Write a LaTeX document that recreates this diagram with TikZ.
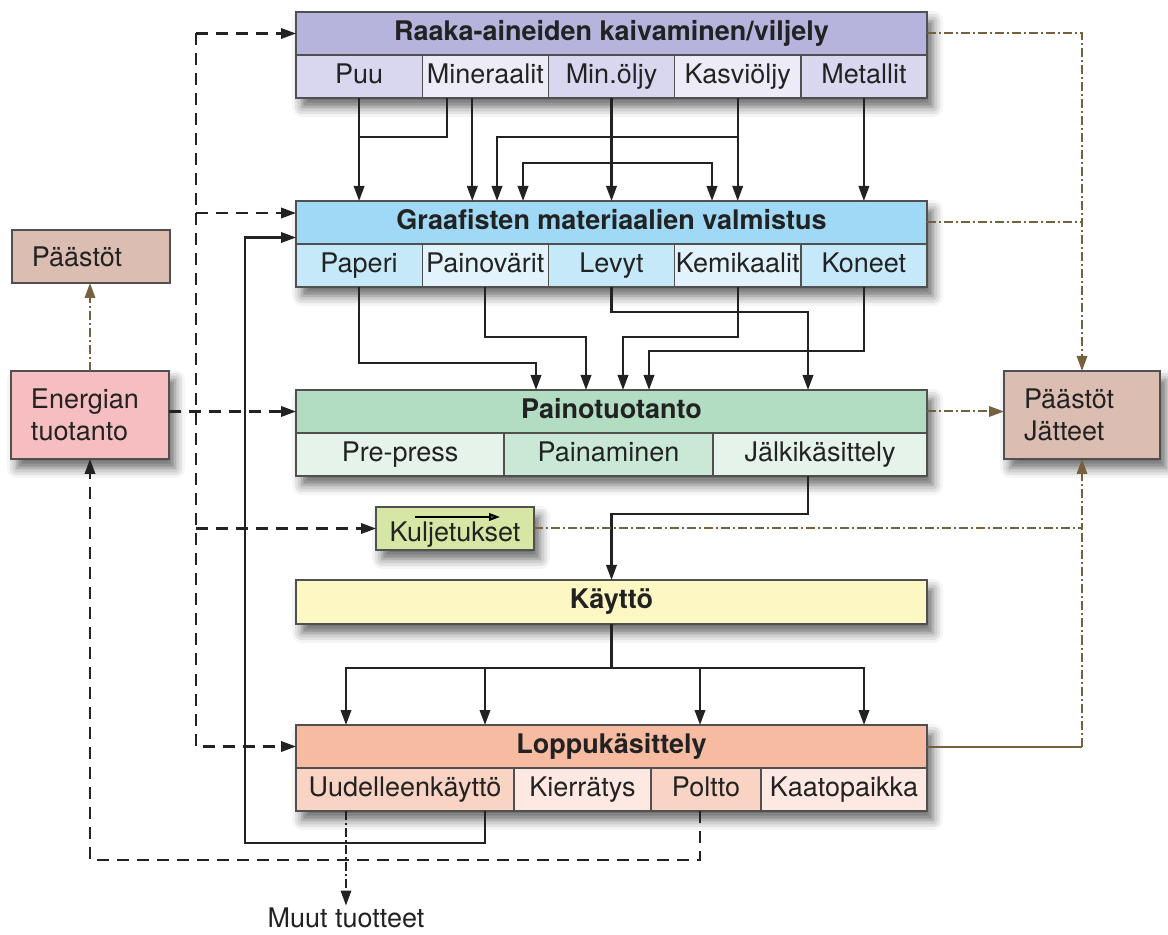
\documentclass[tikz,border=0pt]{standalone}
\usepackage{fontspec}
\setmainfont{TeX Gyre Heros}
\usetikzlibrary{positioning,arrows.meta,shadows.blur}

\definecolor{edge}{HTML}{505050}
\definecolor{ink}{HTML}{222222}
\definecolor{brn}{HTML}{76613F}
\definecolor{rawhd}{HTML}{B6B3DD}
\definecolor{rawdk}{HTML}{D9D7EF}
\definecolor{rawlt}{HTML}{ECEBF7}
\definecolor{grahd}{HTML}{9FD9F6}
\definecolor{gradk}{HTML}{C6E9FA}
\definecolor{gralt}{HTML}{E2F3FC}
\definecolor{pnohd}{HTML}{B2DDC3}
\definecolor{pnodk}{HTML}{CAE8D6}
\definecolor{pnolt}{HTML}{E5F3EA}
\definecolor{kulfill}{HTML}{D6E7A5}
\definecolor{kayfill}{HTML}{FCF7C3}
\definecolor{lophd}{HTML}{F7BBA2}
\definecolor{lopdk}{HTML}{F9D3C3}
\definecolor{loplt}{HTML}{FDE9E1}
\definecolor{emisfill}{HTML}{DCBDB2}
\definecolor{enefill}{HTML}{F6BEC1}

\pgfdeclarelayer{bg}
\pgfsetlayers{bg,main}

\begin{document}
\begin{tikzpicture}[
    x=0.5pt, y=-0.5pt, % one unit = one pixel of the layout, y going down
    font=\fontsize{13.5}{16}\selectfont,
    hdr/.style={draw=edge, line width=0.7pt, text=ink, font=\fontsize{13.5}{16}\selectfont\bfseries, minimum width=315.5pt, minimum height=21.5pt, text height=9.8pt, text depth=2.9pt, inner sep=0pt, outer sep=0pt, anchor=north west},
    cell/.style={draw=edge, line width=0.7pt, text=ink, minimum height=21.5pt, text height=9.8pt, text depth=2.9pt, inner sep=0pt, outer sep=0pt},
    sidebox/.style={draw=edge, line width=0.7pt, text=ink, align=left, text width=59pt, inner xsep=10pt, inner ysep=0pt, outer sep=0pt, anchor=north west},
    arr/.style={draw=ink, line width=1.15pt, -{Triangle[length=7.5pt,width=5.2pt]}},
    solidline/.style={draw=ink, line width=1.15pt},
    dsh/.style={draw=ink, line width=1.15pt, dash pattern=on 6pt off 4pt},
    dsharr/.style={dsh, -{Triangle[length=7.5pt,width=5.2pt]}},
    emis/.style={draw=brn, line width=1pt, dash pattern=on 4.5pt off 1.5pt on 1pt off 1.5pt},
    emisarr/.style={emis, -{Triangle[length=7.5pt,width=5.2pt]}},
    shadowbox/.style={fill=white, blur shadow={shadow xshift=3pt, shadow yshift=-4.5pt, shadow blur radius=5pt, shadow opacity=60}}
  ]
  \useasboundingbox (0,0) rectangle (1168,935);

  % Nodes
  \node[hdr, fill=rawhd] (raw) at (296,12) {Raaka-aineiden kaivaminen/viljely};
  \node[cell, fill=rawdk, minimum width=63.1pt, anchor=north west] (puu) at (raw.south west) {Puu};
  \node[cell, fill=rawlt, minimum width=63.1pt, right=0pt of puu] (mine) {Mineraalit};
  \node[cell, fill=rawdk, minimum width=63.1pt, right=0pt of mine] (minoil) {Min.öljy};
  \node[cell, fill=rawlt, minimum width=63.1pt, right=0pt of minoil] (kasv) {Kasviöljy};
  \node[cell, fill=rawdk, minimum width=63.1pt, right=0pt of kasv] (metal) {Metallit};

  \node[hdr, fill=grahd] (graaf) at (296,201) {Graafisten materiaalien valmistus};
  \node[cell, fill=gradk, minimum width=63.1pt, anchor=north west] (paperi) at (graaf.south west) {Paperi};
  \node[cell, fill=gralt, minimum width=63.1pt, right=0pt of paperi] (painov) {Painovärit};
  \node[cell, fill=gradk, minimum width=63.1pt, right=0pt of painov] (levyt) {Levyt};
  \node[cell, fill=gralt, minimum width=63.1pt, right=0pt of levyt] (kemik) {Kemikaalit};
  \node[cell, fill=gradk, minimum width=63.1pt, right=0pt of kemik] (koneet) {Koneet};

  \node[hdr, fill=pnohd] (paino) at (296,390) {Painotuotanto};
  \node[cell, fill=pnolt, minimum width=104pt, anchor=north west] (prepress) at (paino.south west) {Pre-press};
  \node[cell, fill=pnodk, minimum width=104.5pt, right=0pt of prepress] (painam) {Painaminen};
  \node[cell, fill=pnolt, minimum width=107pt, right=0pt of painam] (jalki) {Jälkikäsittely};

  \node[cell, fill=kulfill, minimum width=79pt, anchor=north west] (kul) at (376,507) {\raisebox{-3pt}{Kuljetukset}};
  \node[hdr, fill=kayfill, minimum height=22pt] (kaytto) at (296,580) {Käyttö};

  \node[hdr, fill=lophd] (loppu) at (296,725) {Loppukäsittely};
  \node[cell, fill=lopdk, minimum width=109pt, anchor=north west] (uud) at (loppu.south west) {Uudelleenkäyttö};
  \node[cell, fill=loplt, minimum width=68.5pt, right=0pt of uud] (kierr) {Kierrätys};
  \node[cell, fill=lopdk, minimum width=55pt, right=0pt of kierr] (poltto) {Poltto};
  \node[cell, fill=loplt, minimum width=83pt, right=0pt of poltto] (kaato) {Kaatopaikka};

  \node[sidebox, fill=emisfill, minimum height=26.5pt] (paastot) at (12,230) {Päästöt};
  \node[sidebox, fill=enefill, minimum height=44pt] (energ) at (11,371) {Energian\\tuotanto};
  \node[sidebox, fill=emisfill, minimum height=44pt, text width=58pt] (pj) at (1004,371) {Päästöt\\Jätteet};
  \node[inner sep=1pt, text=ink] (muut) at (346,918) {Muut tuotteet};

  % Shadows
  \begin{pgfonlayer}{bg}
    \path[shadowbox] (raw.north west) rectangle (metal.south east);
    \path[shadowbox] (graaf.north west) rectangle (koneet.south east);
    \path[shadowbox] (paino.north west) rectangle (jalki.south east);
    \path[shadowbox] (kul.north west) rectangle (kul.south east);
    \path[shadowbox] (kaytto.north west) rectangle (kaytto.south east);
    \path[shadowbox] (loppu.north west) rectangle (kaato.south east);
    \path[shadowbox] (energ.north west) rectangle (energ.south east);
    \path[shadowbox] (pj.north west) rectangle (pj.south east);
  \end{pgfonlayer}

  % Edges: raw materials -> graphic materials
  \draw[arr] (puu.south) -- (puu.south |- graaf.north);
  \draw[solidline] ([xshift=-19pt]mine.south) |- ([yshift=-19.5pt]puu.south);
  \draw[arr] ([xshift=-6.5pt]mine.south) -- ([xshift=-6.5pt]mine.south |- graaf.north);
  \draw[arr] (minoil.south) -- (minoil.south |- graaf.north);
  \draw[arr] ([yshift=-32.5pt]minoil.south) -| ([xshift=113.5pt]graaf.north west);
  \draw[arr] ([yshift=-32.5pt]minoil.south) -| ([xshift=208pt]graaf.north west);
  \draw[arr] (kasv.south) -- (kasv.south |- graaf.north);
  \draw[arr] ([yshift=-19.5pt]kasv.south) -| ([xshift=100.5pt]graaf.north west);
  \draw[arr] (metal.south) -- (metal.south |- graaf.north);

  % graphic materials -> printing
  \draw[arr] (paperi.south) -- ++(0,76) -| ([xshift=120pt]paino.north west);
  \draw[arr] (painov.south) -- ++(0,50) -| ([xshift=145pt]paino.north west);
  \draw[arr] (levyt.south) -- ++(0,25) -| ([xshift=256pt]paino.north west);
  \draw[arr] (kemik.south) -- ++(0,50) -| ([xshift=163.5pt]paino.north west);
  \draw[arr] (koneet.south) -- ++(0,64) -| ([xshift=176.5pt]paino.north west);

  % printing -> use -> end of life
  \draw[arr] ([xshift=-6pt]jalki.south) -- ++(0,38) -| (kaytto.north);
  \foreach \dx in {25,94.5,202,284}
    \draw[arr] (kaytto.south) -- ++(0,44) -| ([xshift=\dx pt]loppu.north west);

  % feedback loops
  \draw[arr] ([xshift=40pt]uud.south) -- ++(0,32) -| ([xshift=-25.5pt,yshift=-7.5pt]graaf.west) -- ([yshift=-7.5pt]graaf.west);
  \draw[emisarr, draw=ink] ([xshift=-29.5pt]uud.south) -- (muut.north);
  \draw[dsharr] ([xshift=-3pt]poltto.south) -- ++(0,49) -| (energ.south);

  % energy
  \draw[dsharr] (energ.east |- paino.west) -- (paino.west);
  \draw[dsharr] ([xshift=-50pt]raw.west) -- (raw.west);
  \draw[dsharr] ([xshift=-50pt]raw.west) |- (loppu.west);
  \draw[dsharr] ([xshift=-50pt,yshift=4.75pt]graaf.west) -- ([yshift=4.75pt]graaf.west);
  \draw[dsharr] ([xshift=-50pt]raw.west |- kul.west) -- (kul.west);
  \draw[line width=0.9pt, -{Triangle[length=5.5pt,width=3.8pt]}] ([xshift=19.5pt,yshift=-5pt]kul.north west) -- ([xshift=62pt,yshift=-5pt]kul.north west);

  % emissions
  \draw[emisarr] (energ.north) -- (energ.north |- paastot.south);
  \draw[emisarr] (raw.east) -| (pj.north);
  \draw[emis] (graaf.east) -- (graaf.east -| pj.north);
  \draw[emisarr] (paino.east) -- (paino.east -| pj.west);
  \draw[emisarr] (kul.east) -| (pj.south);
  \draw[draw=brn, line width=1pt] (loppu.east) -- (loppu.east -| pj.south);
  \draw[emis] (loppu.east -| pj.south) -- (kul.east -| pj.south);

\end{tikzpicture}
\end{document}
